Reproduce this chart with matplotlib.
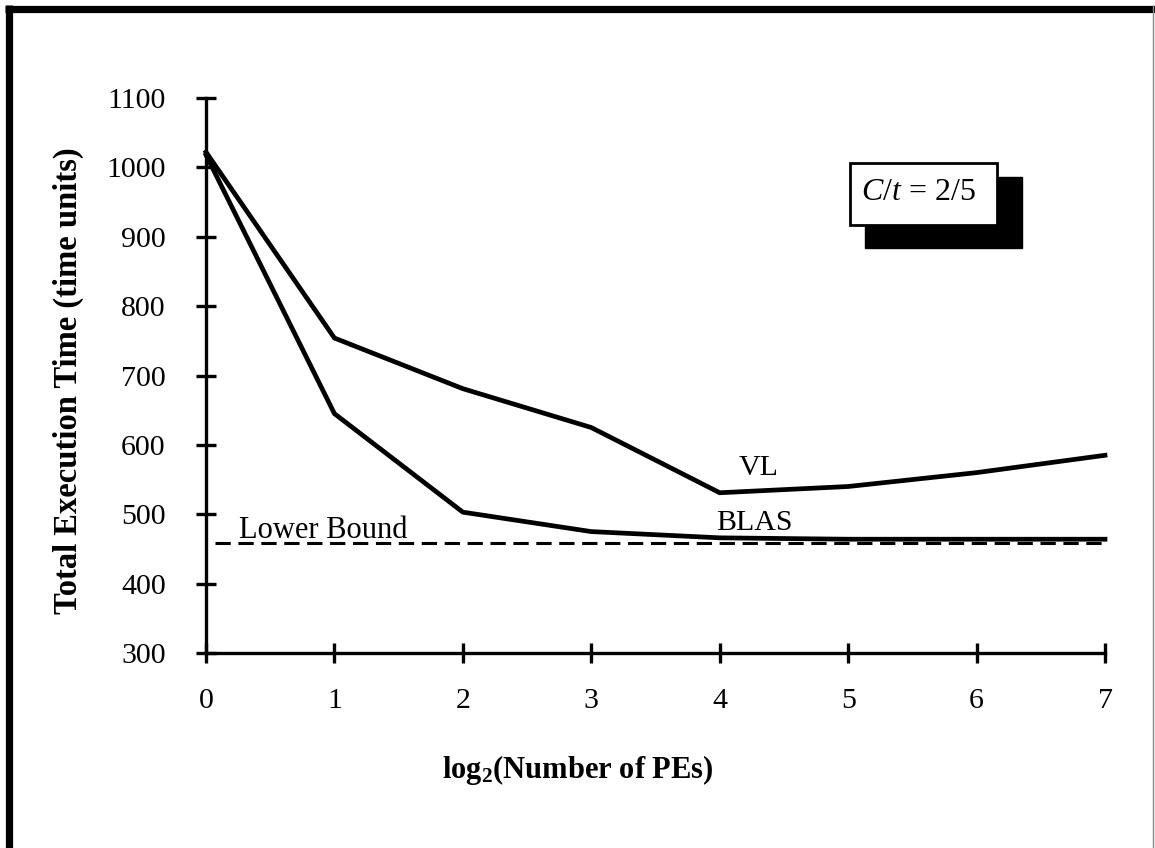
import matplotlib
matplotlib.use("Agg")
import matplotlib.pyplot as plt
from matplotlib.patches import Rectangle
from matplotlib.lines import Line2D

plt.rcParams['font.family'] = ['Liberation Serif', 'DejaVu Serif']
plt.rcParams['mathtext.fontset'] = 'custom'
plt.rcParams['mathtext.rm'] = 'Liberation Serif'
plt.rcParams['mathtext.it'] = 'Liberation Serif:italic'
plt.rcParams['mathtext.bf'] = 'Liberation Serif:bold'

# Data
x_vals = [0, 1, 2, 3, 4, 5, 6, 7]
vl = [1022, 754, 681, 625, 531, 540, 560, 585]
blas = [1018, 645, 503, 475, 466, 464, 464, 464]
lower_bound = 459
y_ticks = [300, 400, 500, 600, 700, 800, 900, 1000, 1100]
x_ticks = [0, 1, 2, 3, 4, 5, 6, 7]

W, H = 1155, 848
fig = plt.figure(figsize=(W / 100, H / 100), dpi=100)
ax = fig.add_axes([206 / W, 1 - 653 / H, (1105 - 206) / W, (653 - 98) / H])

ax.plot(x_vals, vl, color='black', lw=3.4, solid_joinstyle='miter', clip_on=False)
ax.plot(x_vals, blas, color='black', lw=3.4, solid_joinstyle='miter', clip_on=False)
ax.plot([0.07, 7], [lower_bound, lower_bound], color='black', lw=2.2,
        dashes=(5, 2.5), clip_on=False)

ax.set_xlim(0, 7)
ax.set_ylim(300, 1100)
ax.set_xticks(x_ticks)
ax.set_yticks(y_ticks)
for s in ['top', 'right']:
    ax.spines[s].set_visible(False)
for s in ['left', 'bottom']:
    ax.spines[s].set_linewidth(2.4)
ax.tick_params(axis='both', direction='inout', length=14, width=2.4, labelsize=21.5)
ax.tick_params(axis='y', pad=22)
ax.tick_params(axis='x', pad=18)

ax.text(4.30, 567, 'VL', fontsize=21.5, ha='center', va='center')
ax.text(4.27, 487, 'BLAS', fontsize=21.5, ha='center', va='center')
ax.text(0.91, 477, 'Lower Bound', fontsize=22, ha='center', va='center')

fig.text(68 / W, 1 - 381 / H, 'Total Execution Time (time units)', rotation=90,
         fontsize=23.5, fontweight='bold', ha='center', va='center')
fig.text(578 / W, 1 - 770 / H, r'log$_\mathbf{2}$(Number of PEs)',
         fontsize=22, fontweight='bold', ha='center', va='center')

# Annotation box with shadow
fig.patches.append(Rectangle((865 / W, 1 - 248 / H), (1022 - 865) / W, (248 - 177) / H,
                             transform=fig.transFigure, facecolor='black',
                             edgecolor='black', zorder=5))
fig.patches.append(Rectangle((850 / W, 1 - 225 / H), (997 - 850) / W, (225 - 163) / H,
                             transform=fig.transFigure, facecolor='white',
                             edgecolor='black', lw=2, zorder=6))
fig.text(918 / W, 1 - 192 / H, r'$C/t$ = 2/5', fontsize=23, ha='center', va='center',
         zorder=7)

# Page frame
fig.lines.append(Line2D([8.5 / W, 8.5 / W], [0, 1 - 5 / H], transform=fig.transFigure,
                        color='black', lw=5.2, solid_capstyle='butt'))
fig.lines.append(Line2D([5 / W, 1], [1 - 8.5 / H, 1 - 8.5 / H], transform=fig.transFigure,
                        color='black', lw=5.2, solid_capstyle='butt'))
fig.lines.append(Line2D([1153 / W, 1153 / W], [0, 1 - 5 / H], transform=fig.transFigure,
                        color='#888888', lw=1, solid_capstyle='butt'))

fig.savefig('out.png', dpi=100)
